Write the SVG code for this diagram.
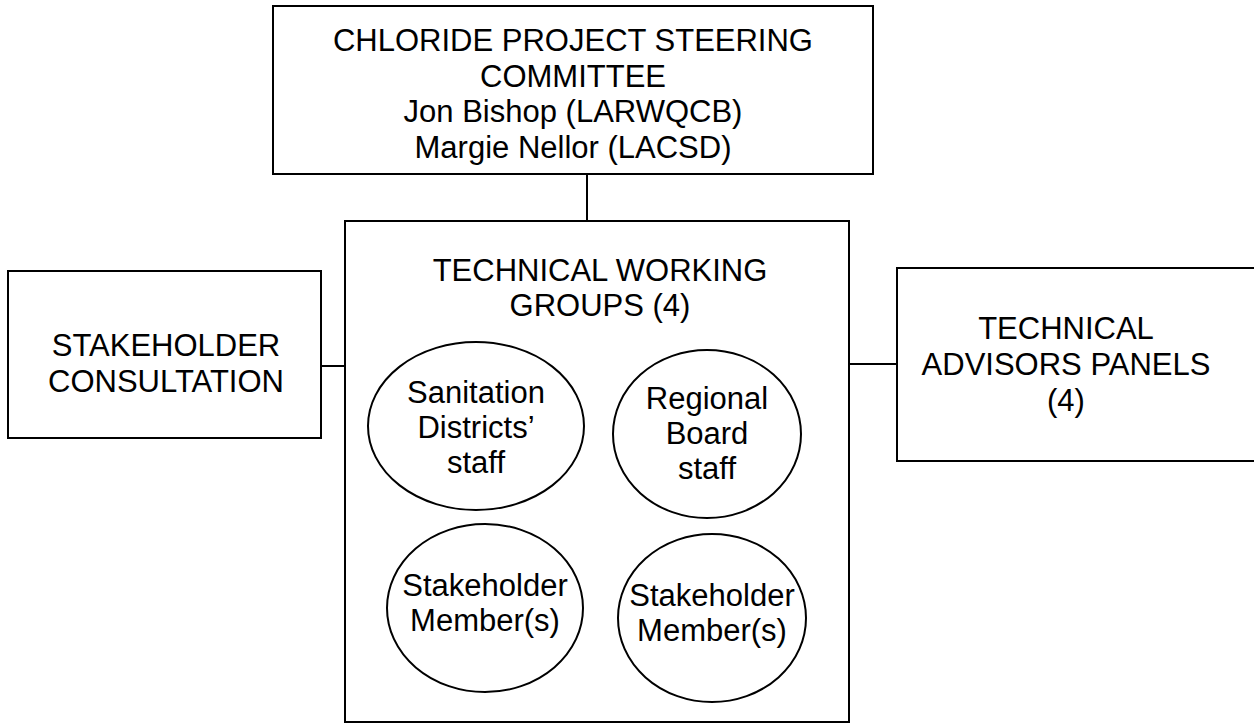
<svg xmlns="http://www.w3.org/2000/svg" width="1254" height="724" viewBox="0 0 1254 724">
<style>
.box{fill:#fff;stroke:#000;stroke-width:2}
.ell{fill:#fff;stroke:#000;stroke-width:2}
.ln{stroke:#000;stroke-width:2;fill:none}
text{font-family:"Liberation Sans",Arial,sans-serif;font-size:31px;fill:#000;text-anchor:middle}
</style>
<rect width="1254" height="724" fill="#fff"/>
<g id="connectors">
<line class="ln" x1="587" y1="174" x2="587" y2="221"/>
<line class="ln" x1="321" y1="366" x2="345" y2="366"/>
<line class="ln" x1="849" y1="364" x2="897" y2="364"/>
</g>
<g id="steering">
<rect class="box" x="273" y="6" width="600" height="168"/>
<text x="573" y="51">CHLORIDE PROJECT STEERING</text>
<text x="573" y="87">COMMITTEE</text>
<text x="573" y="122">Jon Bishop (LARWQCB)</text>
<text x="573" y="158">Margie Nellor (LACSD)</text>
</g>
<g id="stakeholder-consultation">
<rect class="box" x="8" y="271" width="313" height="167"/>
<text x="166" y="356">STAKEHOLDER</text>
<text x="166" y="392">CONSULTATION</text>
</g>
<g id="advisors">
<rect class="box" x="897" y="268" width="370" height="193"/>
<text x="1066" y="339">TECHNICAL</text>
<text x="1066" y="375">ADVISORS PANELS</text>
<text x="1066" y="411">(4)</text>
</g>
<g id="working-groups">
<rect class="box" x="345" y="221" width="504" height="501"/>
<text x="600" y="281">TECHNICAL WORKING</text>
<text x="600" y="316">GROUPS (4)</text>
</g>
<g id="sanitation">
<ellipse class="ell" cx="476" cy="426" rx="108" ry="84"/>
<text x="476" y="403">Sanitation</text>
<text x="476" y="438">Districts’</text>
<text x="476" y="473">staff</text>
</g>
<g id="regional">
<ellipse class="ell" cx="707" cy="434" rx="94" ry="84"/>
<text x="707" y="409">Regional</text>
<text x="707" y="444">Board</text>
<text x="707" y="479">staff</text>
</g>
<g id="stakeholder-1">
<ellipse class="ell" cx="485" cy="608" rx="98" ry="84"/>
<text x="485" y="596">Stakeholder</text>
<text x="485" y="631">Member(s)</text>
</g>
<g id="stakeholder-2">
<ellipse class="ell" cx="712" cy="618" rx="94" ry="84"/>
<text x="712" y="606">Stakeholder</text>
<text x="712" y="641">Member(s)</text>
</g>
</svg>
